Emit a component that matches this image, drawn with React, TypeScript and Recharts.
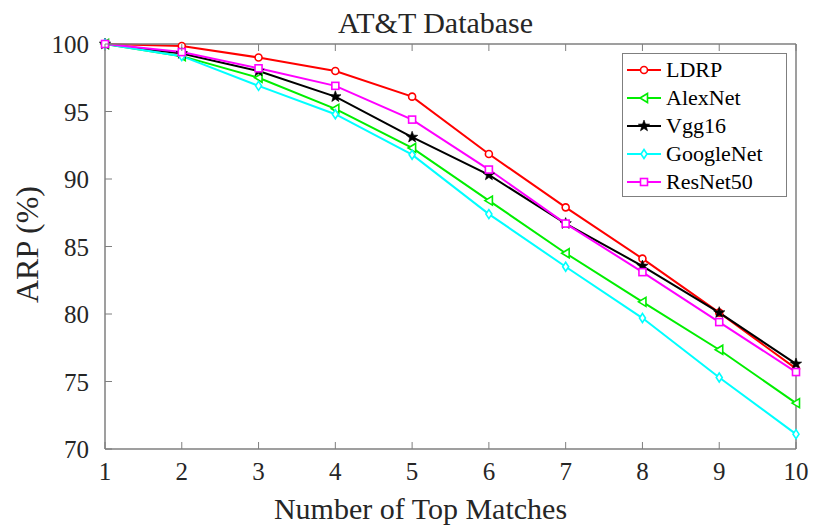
import React from "react";
import { LineChart, Line, XAxis, YAxis, Legend, Label } from "recharts";

const matches = [1, 2, 3, 4, 5, 6, 7, 8, 9, 10];
const ldrp = [100, 99.85, 99.0, 98.0, 96.1, 91.85, 87.9, 84.1, 80.1, 75.95];
const alexNet = [100, 99.1, 97.5, 95.2, 92.3, 88.4, 84.5, 80.9, 77.35, 73.4];
const vgg16 = [100, 99.3, 98.0, 96.1, 93.1, 90.3, 86.7, 83.55, 80.1, 76.3];
const googleNet = [100, 99.1, 96.9, 94.8, 91.8, 87.4, 83.5, 79.7, 75.3, 71.1];
const resNet50 = [100, 99.4, 98.2, 96.9, 94.4, 90.7, 86.7, 83.1, 79.4, 75.7];

const xTicks = [1, 2, 3, 4, 5, 6, 7, 8, 9, 10];
const yTicks = [70, 75, 80, 85, 90, 95, 100];

const data = matches.map((k, i) => ({
  k,
  LDRP: ldrp[i],
  AlexNet: alexNet[i],
  Vgg16: vgg16[i],
  GoogleNet: googleNet[i],
  ResNet50: resNet50[i],
}));

const FONT = '"Liberation Serif", "Times New Roman", serif';
const AXIS = "#7f7f7f";
const TEXT = "#262626";
const TICK_LEN = 7;

type Shape = "circle" | "triangle" | "star" | "diamond" | "square";

const series: { key: string; color: string; shape: Shape }[] = [
  { key: "LDRP", color: "#ff0000", shape: "circle" },
  { key: "AlexNet", color: "#00ee00", shape: "triangle" },
  { key: "Vgg16", color: "#000000", shape: "star" },
  { key: "GoogleNet", color: "#00ffff", shape: "diamond" },
  { key: "ResNet50", color: "#ff00ff", shape: "square" },
];

function Marker({ cx, cy, color, shape }: { cx: number; cy: number; color: string; shape: Shape }) {
  if (cx == null || cy == null) return null;
  const sw = 1.6;
  if (shape === "circle")
    return <circle cx={cx} cy={cy} r={3.5} fill="#fff" stroke={color} strokeWidth={sw} />;
  if (shape === "square")
    return <rect x={cx - 3.5} y={cy - 3.5} width={7} height={7} fill="#fff" stroke={color} strokeWidth={sw} />;
  if (shape === "diamond")
    return (
      <polygon
        points={`${cx},${cy - 4.5} ${cx + 3},${cy} ${cx},${cy + 4.5} ${cx - 3},${cy}`}
        fill="#fff"
        stroke={color}
        strokeWidth={sw}
      />
    );
  if (shape === "triangle")
    return (
      <polygon
        points={`${cx - 4},${cy} ${cx + 3.5},${cy - 4.5} ${cx + 3.5},${cy + 4.5}`}
        fill="#fff"
        stroke={color}
        strokeWidth={sw}
      />
    );
  // five-point star
  const pts: string[] = [];
  for (let i = 0; i < 10; i++) {
    const r = i % 2 === 0 ? 6 : 2.5;
    const a = -Math.PI / 2 + (i * Math.PI) / 5;
    pts.push(`${cx + r * Math.cos(a)},${cy + r * Math.sin(a)}`);
  }
  return <polygon points={pts.join(" ")} fill={color} stroke={color} strokeWidth={0.6} />;
}

// inward tick marks (plus labels on the left / bottom axes)
function BottomTick({ x, y, payload }: any) {
  return (
    <g>
      <line x1={x} y1={y} x2={x} y2={y - TICK_LEN} stroke={AXIS} strokeWidth={1} />
      <text x={x} y={y + 31} textAnchor="middle" fontFamily={FONT} fontSize={25} fill={TEXT}>
        {payload.value}
      </text>
    </g>
  );
}

function TopTick({ x, y }: any) {
  return <line x1={x} y1={y} x2={x} y2={y + TICK_LEN} stroke={AXIS} strokeWidth={1} />;
}

function LeftTick({ x, y, payload }: any) {
  const ax = x + 16;
  return (
    <g>
      <line x1={ax} y1={y} x2={ax + TICK_LEN} y2={y} stroke={AXIS} strokeWidth={1} />
      <text x={x} y={y + 9} textAnchor="end" fontFamily={FONT} fontSize={25} fill={TEXT}>
        {payload.value}
      </text>
    </g>
  );
}

function RightTick({ x, y }: any) {
  return <line x1={x} y1={y} x2={x - TICK_LEN} y2={y} stroke={AXIS} strokeWidth={1} />;
}

function LegendBox({ payload }: any) {
  return (
    <div
      style={{
        border: `1px solid ${AXIS}`,
        background: "#fff",
        width: 165,
        padding: "2px 0 0 0",
        boxSizing: "border-box",
      }}
    >
      {series.map((s) => (
        <div key={s.key} style={{ display: "flex", alignItems: "center", height: 28 }}>
          <svg width={40} height={20} style={{ marginLeft: 3 }}>
            <line x1={1} y1={10} x2={35} y2={10} stroke={s.color} strokeWidth={2} />
            <Marker cx={18} cy={10} color={s.color} shape={s.shape} />
          </svg>
          <span style={{ fontFamily: FONT, fontSize: 22, color: "#000", lineHeight: "22px" }}>
            {payload?.find((p: any) => p.value === s.key)?.value ?? s.key}
          </span>
        </div>
      ))}
    </div>
  );
}

export default function App() {
  return (
    <div style={{ position: "absolute", left: 0, top: 0, background: "#fff" }}>
      <LineChart width={814} height={526} data={data} margin={{ top: 0, right: 0, bottom: 0, left: 0 }}>
        <XAxis
          dataKey="k"
          type="number"
          domain={[1, 10]}
          ticks={xTicks}
          height={77}
          tickSize={0}
          tickMargin={0}
          tick={<BottomTick />}
          axisLine={{ stroke: AXIS, strokeWidth: 1.5 }}
          interval={0}
        >
          <Label
            content={({ viewBox }: any) => (
              <text
                x={viewBox.x + viewBox.width / 2 - 30}
                y={viewBox.y + 70}
                textAnchor="middle"
                fontFamily={FONT}
                fontSize={30}
                fill={TEXT}
              >
                Number of Top Matches
              </text>
            )}
          />
        </XAxis>
        <XAxis
          xAxisId="top"
          orientation="top"
          dataKey="k"
          type="number"
          domain={[1, 10]}
          ticks={xTicks}
          height={44}
          tickSize={0}
          tickMargin={0}
          tick={<TopTick />}
          axisLine={{ stroke: AXIS, strokeWidth: 1.5 }}
          interval={0}
        >
          <Label
            content={({ viewBox }: any) => (
              <text
                x={viewBox.x + viewBox.width / 2 - 15}
                y={33}
                textAnchor="middle"
                fontFamily={FONT}
                fontSize={30}
                fill={TEXT}
              >
                AT&amp;T Database
              </text>
            )}
          />
        </XAxis>
        <YAxis
          type="number"
          domain={[70, 100]}
          ticks={yTicks}
          width={105}
          tickSize={0}
          tickMargin={16}
          tick={<LeftTick />}
          axisLine={{ stroke: AXIS, strokeWidth: 1.5 }}
          interval={0}
        >
          <Label
            content={({ viewBox }: any) => {
              const cy = viewBox.y + viewBox.height / 2 - 2;
              return (
                <text
                  x={38}
                  y={cy}
                  transform={`rotate(-90 38 ${cy})`}
                  textAnchor="middle"
                  fontFamily={FONT}
                  fontSize={32}
                  fill={TEXT}
                >
                  ARP (%)
                </text>
              );
            }}
          />
        </YAxis>
        <YAxis
          yAxisId="right"
          orientation="right"
          type="number"
          domain={[70, 100]}
          ticks={yTicks}
          width={18}
          tickSize={0}
          tickMargin={0}
          tick={<RightTick />}
          axisLine={{ stroke: AXIS, strokeWidth: 1.5 }}
          interval={0}
        />
        <Legend
          layout="horizontal"
          align="center"
          verticalAlign="middle"
          content={<LegendBox />}
          wrapperStyle={{ position: "absolute", left: 622, top: 53, width: 165 }}
        />
        {series.map((s) => (
          <Line
            key={s.key}
            dataKey={s.key}
            stroke={s.color}
            strokeWidth={2}
            isAnimationActive={false}
            dot={(p: any) => (
              <Marker key={`${s.key}-${p.index}`} cx={p.cx} cy={p.cy} color={s.color} shape={s.shape} />
            )}
            activeDot={false}
          />
        ))}
      </LineChart>
    </div>
  );
}
